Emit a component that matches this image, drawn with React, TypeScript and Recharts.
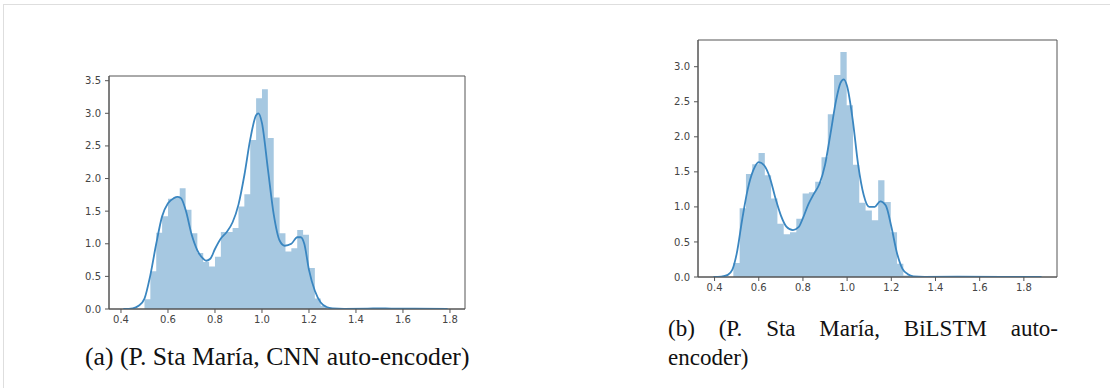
import React from 'react';
import { ComposedChart, Area, Line, XAxis, YAxis, ReferenceArea } from 'recharts';

// ---------- shared ticks ----------
const xTicks = [0.4, 0.6, 0.8, 1.0, 1.2, 1.4, 1.6, 1.8];
const yTicksA = [0, 0.5, 1.0, 1.5, 2.0, 2.5, 3.0, 3.5];
const yTicksB = [0, 0.5, 1.0, 1.5, 2.0, 2.5, 3.0];

// ---------- (a) CNN auto-encoder ----------
const binEdgesA = [
  0.5, 0.525, 0.55, 0.575, 0.6, 0.625, 0.65, 0.675, 0.7, 0.725, 0.75, 0.775, 0.8, 0.825, 0.85, 0.875,
  0.9, 0.925, 0.95, 0.975, 1.0, 1.025, 1.05, 1.075, 1.1, 1.125, 1.15, 1.175, 1.2, 1.225, 1.25, 1.275,
];
const binHeightsA = [
  0.15, 0.58, 1.17, 1.42, 1.69, 1.71, 1.85, 1.52, 1.16, 0.86, 0.72, 0.65, 0.8, 1.18, 1.18, 1.24,
  1.57, 1.76, 2.59, 3.23, 3.37, 2.62, 1.71, 1.16, 0.88, 0.93, 1.21, 1.14, 0.63, 0.16, 0.05,
];
const kdeXA = [
  0.41, 0.45, 0.475, 0.5, 0.525, 0.55, 0.575, 0.6, 0.625, 0.64, 0.655, 0.675, 0.7, 0.725, 0.75, 0.762,
  0.78, 0.8, 0.825, 0.85, 0.875, 0.9, 0.925, 0.95, 0.975, 0.985, 1.0, 1.025, 1.05, 1.075, 1.097, 1.125,
  1.15, 1.165, 1.18, 1.2, 1.225, 1.25, 1.275, 1.3, 1.35, 1.45, 1.5, 1.55, 1.65, 1.79,
];
const kdeYA = [
  0, 0.01, 0.05, 0.16, 0.52, 1.0, 1.42, 1.62, 1.7, 1.72, 1.7, 1.52, 1.15, 0.9, 0.77, 0.74,
  0.77, 0.92, 1.08, 1.18, 1.33, 1.6, 2.05, 2.6, 2.97, 3.0, 2.85, 2.15, 1.45, 1.05, 0.97, 1.0,
  1.1, 1.1, 1.0, 0.6, 0.28, 0.1, 0.03, 0.01, 0.003, 0.005, 0.01, 0.005, 0.004, 0,
];

// ---------- (b) BiLSTM auto-encoder ----------
const binEdgesB = [
  0.485, 0.5135, 0.542, 0.5705, 0.599, 0.6275, 0.656, 0.6845, 0.713, 0.7415, 0.77, 0.7985, 0.827, 0.8555, 0.884,
  0.9125, 0.941, 0.9695, 0.998, 1.0265, 1.055, 1.0835, 1.112, 1.1405, 1.169, 1.1975, 1.226, 1.2545, 1.283,
];
const binHeightsB = [
  0.2, 0.98, 1.47, 1.61, 1.77, 1.45, 1.12, 0.76, 0.61, 0.64, 0.83, 1.19, 1.21, 1.36,
  1.71, 2.32, 2.88, 3.21, 2.45, 1.6, 1.06, 0.95, 0.81, 1.38, 1.07, 0.64, 0.19, 0.02,
];
const kdeXB = [
  0.395, 0.43, 0.46, 0.48, 0.5, 0.525, 0.55, 0.575, 0.6, 0.625, 0.65, 0.675, 0.7, 0.725, 0.755, 0.78,
  0.8, 0.825, 0.85, 0.875, 0.9, 0.925, 0.95, 0.97, 0.985, 1.0, 1.025, 1.05, 1.075, 1.1, 1.125, 1.15,
  1.175, 1.2, 1.225, 1.25, 1.275, 1.3, 1.35, 1.5, 1.7, 1.88,
];
const kdeYB = [
  0, 0.005, 0.03, 0.1, 0.33, 0.82, 1.25, 1.52, 1.64, 1.59, 1.42, 1.13, 0.88, 0.72, 0.67, 0.71,
  0.84, 1.04, 1.19, 1.33, 1.6, 2.05, 2.52, 2.77, 2.82, 2.72, 2.25, 1.6, 1.17, 1.0, 1.0, 1.08,
  1.02, 0.72, 0.35, 0.12, 0.04, 0.01, 0.003, 0.004, 0.003, 0,
];

const captionA = '(a) (P. Sta María, CNN auto-encoder)';
const captionB1 = '(b) (P. Sta María, BiLSTM auto-';
const captionB2 = 'encoder)';

type Row = { x: number; hist?: number; kde?: number };

function buildRows(edges: number[], heights: number[], kx: number[], ky: number[]): Row[] {
  const rows: Row[] = [];
  edges.forEach((x, i) => rows.push({ x, hist: i < heights.length ? heights[i] : 0 }));
  kx.forEach((x, i) => rows.push({ x, kde: ky[i] }));
  rows.sort((a, b) => a.x - b.x);
  return rows;
}

const rowsA = buildRows(binEdgesA, binHeightsA, kdeXA, kdeYA);
const rowsB = buildRows(binEdgesB, binHeightsB, kdeXB, kdeYB);

const tickStyle = { fontSize: 10, fill: '#444', fontFamily: 'DejaVu Sans' };
const fmt = (v: number) => v.toFixed(1);

function Dist(props: {
  rows: Row[];
  xDomain: [number, number];
  yDomain: [number, number];
  yTicks: number[];
  width: number;
  height: number;
  margin: { top: number; right: number; bottom: number; left: number };
}) {
  const { rows, xDomain, yDomain, yTicks, width, height, margin } = props;
  return (
    <ComposedChart width={width} height={height} data={rows} margin={margin}>
      <XAxis
        dataKey="x"
        type="number"
        domain={xDomain}
        ticks={xTicks}
        tickFormatter={fmt}
        allowDataOverflow
        interval={0}
        height={25}
        tickSize={4}
        tickMargin={3}
        tick={tickStyle}
        axisLine={{ stroke: '#555' }}
        tickLine={{ stroke: '#555' }}
      />
      <YAxis
        type="number"
        domain={yDomain}
        ticks={yTicks}
        tickFormatter={fmt}
        allowDataOverflow
        interval={0}
        width={49}
        tickSize={4}
        tickMargin={4}
        tick={tickStyle}
        axisLine={{ stroke: '#555' }}
        tickLine={{ stroke: '#555' }}
      />
      <Area
        type="stepAfter"
        dataKey="hist"
        stroke="none"
        fill="#a6c8e1"
        fillOpacity={1}
        connectNulls
        dot={false}
        activeDot={false}
        isAnimationActive={false}
      />
      <Line
        type="monotone"
        dataKey="kde"
        stroke="#3a86c0"
        strokeWidth={1.8}
        dot={false}
        activeDot={false}
        connectNulls
        isAnimationActive={false}
      />
      <ReferenceArea
        x1={xDomain[0]}
        x2={xDomain[1]}
        y1={yDomain[0]}
        y2={yDomain[1]}
        fill="none"
        fillOpacity={0}
        stroke="#555"
        strokeWidth={1}
      />
    </ComposedChart>
  );
}

export default function App() {
  return (
    <div style={{ position: 'absolute', left: 0, top: 0, width: 1110, height: 388, background: '#fff', overflow: 'hidden' }}>
      <div
        style={{
          position: 'absolute',
          left: 3,
          top: 4,
          width: 1120,
          height: 400,
          borderTop: '1px solid #dedede',
          borderLeft: '1px solid #dedede',
        }}
      />
      <div style={{ position: 'absolute', left: 60, top: 60 }}>
        <Dist
          rows={rowsA}
          xDomain={[0.349, 1.864]}
          yDomain={[0, 3.572]}
          yTicks={yTicksA}
          width={420}
          height={280}
          margin={{ top: 16, right: 15, bottom: 6, left: 0 }}
        />
      </div>
      <div style={{ position: 'absolute', left: 649, top: 24 }}>
        <Dist
          rows={rowsB}
          xDomain={[0.325, 1.95]}
          yDomain={[0, 3.381]}
          yTicks={yTicksB}
          width={420}
          height={280}
          margin={{ top: 16, right: 12, bottom: 2, left: 0 }}
        />
      </div>
      <div
        style={{
          position: 'absolute',
          left: 85,
          top: 343.5,
          fontFamily: 'Liberation Serif',
          fontSize: 25.7,
          lineHeight: '25.7px',
          color: '#111',
          whiteSpace: 'nowrap',
        }}
      >
        {captionA}
      </div>
      <div
        style={{
          position: 'absolute',
          left: 668,
          top: 317,
          width: 390,
          fontFamily: 'Liberation Serif',
          fontSize: 23,
          lineHeight: '23px',
          color: '#111',
        }}
      >
        <div style={{ whiteSpace: 'normal', textAlign: 'justify', textAlignLast: 'justify' as any }}>{captionB1}</div>
      </div>
      <div
        style={{
          position: 'absolute',
          left: 668,
          top: 346,
          fontFamily: 'Liberation Serif',
          fontSize: 23,
          lineHeight: '23px',
          color: '#111',
          whiteSpace: 'nowrap',
        }}
      >
        {captionB2}
      </div>
    </div>
  );
}
